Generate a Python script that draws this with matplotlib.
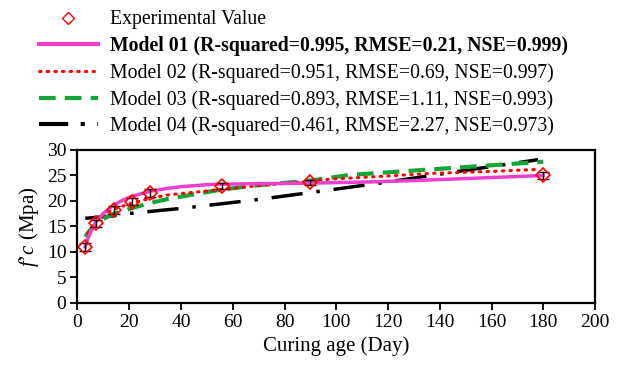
import matplotlib
matplotlib.use('Agg')
import matplotlib.pyplot as plt
from matplotlib.lines import Line2D

plt.rcParams['font.family'] = ['Liberation Serif', 'DejaVu Serif']
plt.rcParams['mathtext.fontset'] = 'custom'
plt.rcParams['mathtext.it'] = 'Liberation Serif:italic'
plt.rcParams['mathtext.rm'] = 'Liberation Serif'

# experimental data
exp_days = [3, 7, 14, 21, 28, 56, 90, 180]
exp_fc = [11.0, 15.6, 18.2, 19.9, 21.5, 22.9, 23.7, 25.0]
exp_err = [0.8, 0.7, 0.8, 0.7, 0.8, 0.6, 0.5, 0.6]

# model curves
m1_days = [3, 4, 5, 7, 10, 14, 18, 21, 28, 35, 40, 50, 56, 70, 90, 110, 130, 150, 165, 180]
m1_fc = [11.0, 12.6, 13.8, 15.8, 17.6, 19.2, 20.3, 20.9, 21.9, 22.5, 22.8, 23.2, 23.3, 23.4, 23.5, 23.7, 24.0, 24.4, 24.7, 25.0]

m2_days = [4, 5, 7, 10, 14, 21, 28, 35, 47, 56, 70, 83, 98, 120, 136, 160, 178]
m2_fc = [13.6, 14.5, 15.9, 17.2, 18.4, 19.6, 20.5, 21.2, 21.8, 22.3, 23.0, 23.6, 24.3, 24.9, 25.4, 25.8, 26.2]

m3_days = [3, 5, 7, 10, 14, 21, 28, 35, 45, 55, 70, 90, 105, 128, 157, 180]
m3_fc = [13.0, 14.4, 15.4, 16.5, 17.5, 18.6, 19.6, 20.4, 21.3, 22.2, 23.1, 24.0, 25.1, 25.9, 26.9, 27.7]

m4_days = [3, 14, 19, 41, 70, 98, 121, 147, 170, 178]
m4_fc = [16.6, 17.1, 17.5, 18.6, 20.3, 22.2, 23.8, 25.8, 27.5, 28.1]

labels = [
    'Experimental Value',
    'Model 01 (R-squared=0.995, RMSE=0.21, NSE=0.999)',
    'Model 02 (R-squared=0.951, RMSE=0.69, NSE=0.997)',
    'Model 03 (R-squared=0.893, RMSE=1.11, NSE=0.993)',
    'Model 04 (R-squared=0.461, RMSE=2.27, NSE=0.973)',
]

fig = plt.figure(figsize=(6.18, 3.67), dpi=100)
ax = fig.add_axes([0.1254, 0.1744, 0.8374, 0.4169])

ax.plot(m4_days, m4_fc, color='black', lw=2.5, dashes=(9, 4, 1, 4))
ax.plot(m3_days, m3_fc, color='#13a538', lw=3, dashes=(4, 2.2))
ax.plot(m2_days, m2_fc, color='red', lw=2.2, linestyle=(0, (0.5, 2)), dash_capstyle='round')
ax.plot(m1_days, m1_fc, color='#ee3fce', lw=2.5)
ax.errorbar(exp_days, exp_fc, yerr=exp_err, fmt='none', ecolor='black', elinewidth=1, capsize=4)
ax.plot(exp_days, exp_fc, 'D', mfc='none', mec='red', ms=7, mew=1.2, linestyle='none')

ax.set_xlim(0, 200)
ax.set_ylim(0, 30)
ax.set_xticks(range(0, 201, 20))
ax.set_yticks(range(0, 31, 5))
ax.tick_params(direction='out', length=5, width=1.3, labelsize=14, pad=3)
for s in ax.spines.values():
    s.set_linewidth(1.6)
ax.set_xlabel('Curing age (Day)', fontsize=15, labelpad=4)
ax.set_ylabel('$\\mathit{f}$’$\\mathit{c}$ (Mpa)', fontsize=15, labelpad=4)

handles = [
    Line2D([], [], marker='D', mfc='none', mec='red', ms=6, linestyle='none'),
    Line2D([], [], color='#ee3fce', lw=3),
    Line2D([], [], color='red', lw=2.2, linestyle=(0, (0.5, 2)), dash_capstyle='round'),
    Line2D([], [], color='#13a538', lw=3, dashes=(4, 2.2)),
    Line2D([], [], color='black', lw=3, dashes=(7, 3, 1, 3)),
]
leg = fig.legend(handles, labels, loc='upper left', bbox_to_anchor=(0.034, 1.02),
                 frameon=False, fontsize=14.2, handlelength=3.0, handletextpad=0.6,
                 labelspacing=0.35)
leg.get_texts()[1].set_fontweight('bold')

fig.savefig('out.png', dpi=100)
